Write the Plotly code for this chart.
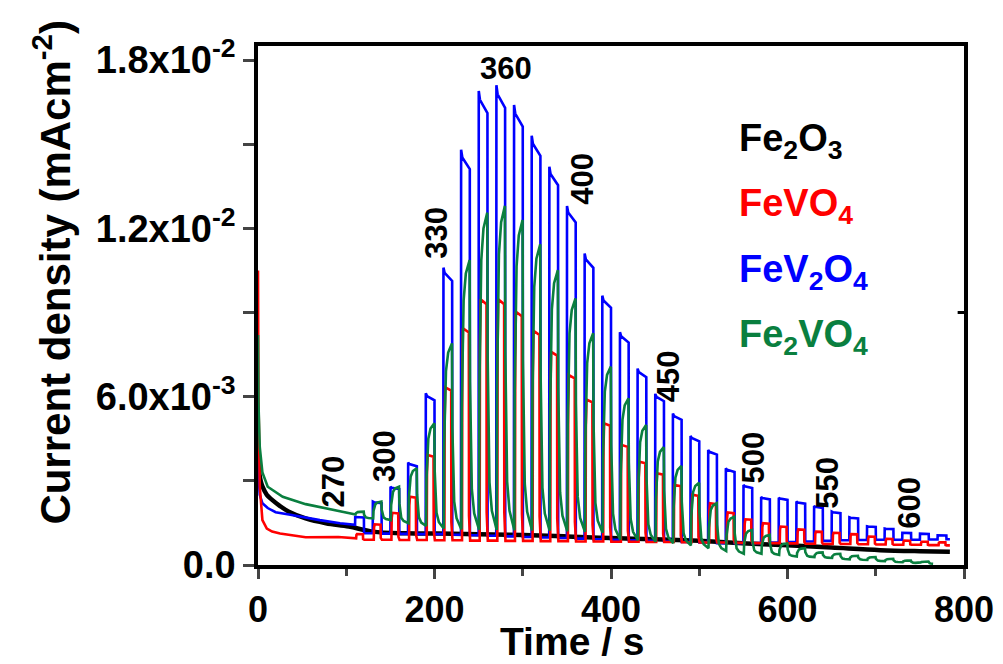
import plotly.graph_objects as go

# ---------------- data ----------------
# light-on times of the chopped illumination (s)
PULSE_ON = [110, 130, 150, 170, 190, 210, 230, 250, 270, 290, 310, 330, 350, 370,
            390, 410, 430, 450, 470, 490, 510, 530, 550, 570, 590, 610, 630, 650,
            670, 690, 710, 730, 750, 770]

# initial dark decays (before the first pulse)
BLUE_INIT_T = [0, 0.5, 2, 5, 11, 20, 35, 48, 70, 93, 110]
BLUE_INIT_V = [0.0041, 0.0033, 0.0025, 0.0022, 0.00203, 0.00188, 0.0018, 0.00172, 0.0016, 0.00149, 0.00143]
RED_INIT_T = [0, 0.5, 2, 5, 10, 16, 25, 35, 54, 91, 110]
RED_INIT_V = [0.0105, 0.006, 0.0028, 0.0016, 0.0013, 0.00119, 0.00112, 0.00107, 0.00099, 0.001, 0.00095]
GREEN_INIT_T = [0, 0.5, 2, 5, 11, 28, 54, 77, 103, 110]
GREEN_INIT_V = [0.0082, 0.0058, 0.0042, 0.0033, 0.00279, 0.00243, 0.00217, 0.00202, 0.00184, 0.0018]

# photocurrent maxima of each pulse
BLUE_TOP = [0.00171, 0.00226, 0.00279, 0.00365, 0.00612, 0.0106, 0.0148, 0.0169, 0.0171, 0.0164,
            0.0153, 0.0142, 0.0128, 0.0111, 0.0096, 0.0083, 0.0070, 0.0061, 0.0054, 0.0046,
            0.0041, 0.00345, 0.00285, 0.00242, 0.0024, 0.00226, 0.0021, 0.0019, 0.0017, 0.00138,
            0.0013, 0.00115, 0.00112, 0.00106]
BLUE_OFF = [0.00113, 0.00112, 0.00111, 0.0011, 0.0011, 0.00108, 0.00106, 0.00104, 0.00102, 0.001,
            0.00098, 0.00096, 0.00094, 0.00092, 0.0009, 0.00088, 0.00086, 0.00084, 0.00082, 0.0008,
            0.00078, 0.00078, 0.00078, 0.0008, 0.00082, 0.00084, 0.00086, 0.00088, 0.00089, 0.0009,
            0.0009, 0.0009, 0.00091, 0.00092]
RED_TOP = [0.0011, 0.00145, 0.00186, 0.00243, 0.00392, 0.00633, 0.00844, 0.00947, 0.00947, 0.00903,
           0.00835, 0.0076, 0.00677, 0.0059, 0.00505, 0.00428, 0.00368, 0.00327, 0.00285, 0.0025,
           0.0022, 0.00187, 0.00163, 0.00149, 0.00137, 0.00127, 0.00119, 0.00115, 0.0011, 0.00101,
           0.00093, 0.00087, 0.00083, 0.00081]
RED_OFF = [0.0009, 0.0009, 0.00089, 0.00089, 0.00088, 0.00088, 0.00087, 0.00087, 0.00086, 0.00086,
           0.00085, 0.00085, 0.00084, 0.00084, 0.00083, 0.00083, 0.00082, 0.00082, 0.00081, 0.0008,
           0.0008, 0.00079, 0.00078, 0.00078, 0.00077, 0.00076, 0.00075, 0.00075, 0.00074, 0.00073,
           0.00072, 0.00072, 0.00071, 0.0007]
GREEN_TOP = [0.0019, 0.00226, 0.00279, 0.00345, 0.00505, 0.0079, 0.01087, 0.01256, 0.0128, 0.0123,
             0.01143, 0.01051, 0.0095, 0.00826, 0.00707, 0.00594, 0.00499, 0.0042, 0.00353, 0.00293,
             0.0022, 0.00172, 0.00125, 0.00107, 0.00077, 0.0006, 0.00045, 0.0004, 0.00033, 0.00028,
             0.00022, 0.00016, 0.00012]
GREEN_OFF = [0.00166, 0.0016, 0.00149, 0.00139, 0.0013, 0.00127, 0.00126, 0.00125, 0.00124, 0.00123,
             0.00122, 0.0012, 0.00118, 0.00115, 0.0009, 0.00088, 0.00083, 0.00078, 0.0007, 0.0006,
             0.0005, 0.0004, 0.0004, 0.00036, 0.0003, 0.00028, 0.00025, 0.0002, 0.00018, 0.00014,
             0.0001, 0.00007, 0.00004]

# Fe2O3 (no photoresponse): dark current decay
BLACK_T = [0, 1, 3, 5, 10, 16, 25, 35, 54, 77, 103, 130, 168, 205, 250, 300, 350, 400,
           450, 500, 554, 600, 650, 705, 750, 784]
BLACK_V = [0.0040, 0.0034, 0.0030, 0.0028, 0.0025, 0.00232, 0.0021, 0.0019, 0.00166, 0.00149,
           0.00137, 0.00119, 0.00113, 0.00112, 0.0011, 0.00107, 0.00102, 0.00096, 0.00092, 0.00086,
           0.00077, 0.0007, 0.00062, 0.00053, 0.00049, 0.00047]

END_T = 784
GREEN_END_T = 765

LABELS = ["270", "300", "330", "360", "400", "450", "500", "550", "600"]
LABEL_T = [86, 144, 202, 281, 368, 466, 562, 645, 738]
LABEL_V = [0.00297, 0.00389, 0.01185, 0.0177, 0.01376, 0.00674, 0.00383, 0.00294, 0.00223]
LABEL_ANGLE = [-90, -90, -90, 0, -90, -90, -90, -90, -90]

LEGEND_TEXT = ["Fe<sub>2</sub>O<sub>3</sub>", "FeVO<sub>4</sub>",
               "FeV<sub>2</sub>O<sub>4</sub>", "Fe<sub>2</sub>VO<sub>4</sub>"]
COLORS = ["#000000", "#FF0000", "#0000FF", "#0A7F3F"]

# ---------------- pulse shapes (style) ----------------
BLUE_RISE = [(0, 0), (0.15, 1.0), (1.5, 0.98), (10, 0.95)]
BLUE_FALL = [(10.15, 0.0), (20, 0.0)]
RED_RISE = [(1.2, 0), (1.5, 0.8), (2.2, 1.0), (8.9, 0.98)]
RED_FALL = [(9.1, 0.12), (10.4, 0.0), (20, 0.0)]
GREEN_RISE = [(0.5, 0), (0.9, 0.45), (1.7, 0.7), (3, 0.85), (5.5, 0.95), (9.8, 1.0)]
GREEN_FALL = [(10.2, 0.55), (11.0, 0.3), (12.3, 0.15), (15, 0.06), (20, 0.0)]


def pulse_train(init_t, init_v, tops, offs, rise, fall, t_end):
    xs, ys = list(init_t), list(init_v)
    for t0, top, off in zip(PULSE_ON, tops, offs):
        base = ys[-1]
        for dt, f in rise:
            xs.append(t0 + dt)
            ys.append(base + f * (top - base))
        hi = ys[-1]
        for dt, f in fall:
            xs.append(t0 + dt)
            ys.append(off + f * (hi - off))
    out_x, out_y = [], []
    for x, y in zip(xs, ys):
        if x <= t_end:
            out_x.append(x)
            out_y.append(y)
    if out_x[-1] < t_end:
        out_x.append(t_end)
        out_y.append(out_y[-1])
    return out_x, out_y


bx, by = pulse_train(BLUE_INIT_T, BLUE_INIT_V, BLUE_TOP, BLUE_OFF, BLUE_RISE, BLUE_FALL, END_T)
rx, ry = pulse_train(RED_INIT_T, RED_INIT_V, RED_TOP, RED_OFF, RED_RISE, RED_FALL, END_T)
gx, gy = pulse_train(GREEN_INIT_T, GREEN_INIT_V, GREEN_TOP, GREEN_OFF, GREEN_RISE, GREEN_FALL, GREEN_END_T)

FONT = "Liberation Sans, Arial, sans-serif"

fig = go.Figure()
fig.add_trace(go.Scatter(x=BLACK_T, y=BLACK_V, mode="lines", line=dict(color=COLORS[0], width=4.5),
                         line_shape="spline", name="Fe2O3"))
fig.add_trace(go.Scatter(x=bx, y=by, mode="lines", line=dict(color=COLORS[2], width=2.6), name="FeV2O4"))
fig.add_trace(go.Scatter(x=rx, y=ry, mode="lines", line=dict(color=COLORS[1], width=2.6), name="FeVO4"))
fig.add_trace(go.Scatter(x=gx, y=gy, mode="lines", line=dict(color=COLORS[3], width=2.6), name="Fe2VO4"))

for txt, t, v, ang in zip(LABELS, LABEL_T, LABEL_V, LABEL_ANGLE):
    fig.add_annotation(x=t, y=v, text=txt, textangle=ang, showarrow=False,
                       xanchor="center", yanchor="middle",
                       font=dict(family=FONT, size=31, color="#000000", weight="bold"))

LEG_X = 543
LEG_Y = [0.0151, 0.01278, 0.01046, 0.00814]
for txt, col, yv in zip(LEGEND_TEXT, COLORS, LEG_Y):
    fig.add_annotation(x=LEG_X, y=yv, text=txt, showarrow=False, xanchor="left", yanchor="middle",
                       font=dict(family=FONT, size=38, color=col, weight="bold"))

# axis titles placed as in the reference (slightly off-centre)
fig.add_annotation(xref="paper", yref="paper", x=0.445, y=-0.148, text="Time / s", showarrow=False,
                   xanchor="center", yanchor="middle",
                   font=dict(family=FONT, size=39, color="#000000", weight="bold"))
fig.add_annotation(xref="paper", yref="paper", x=-0.292, y=0.565, text="Current density (mAcm<sup>-2</sup>)",
                   textangle=-90, showarrow=False, xanchor="center", yanchor="middle",
                   font=dict(family=FONT, size=42, color="#000000", weight="bold"))

# single inward tick on right axis
fig.add_shape(type="line", xref="paper", yref="y", x0=1, x1=0.991, y0=0.009, y1=0.009,
              line=dict(color="black", width=3))

fig.update_layout(
    width=1003, height=664,
    margin=dict(l=258, r=39, t=46, b=99),
    paper_bgcolor="white", plot_bgcolor="white",
    showlegend=False,
    font=dict(family=FONT, color="black"),
)
fig.update_xaxes(
    range=[0, 800], tickvals=[0, 200, 400, 600, 800], ticks="outside", ticklen=10, tickwidth=3,
    minor=dict(dtick=100, tick0=0, ticks="outside", ticklen=7, tickwidth=3),
    showline=True, linewidth=3.5, linecolor="black", mirror=True, showgrid=False, zeroline=False,
    tickfont=dict(family=FONT, size=36, weight="bold"),
    automargin=False,
)
fig.update_yaxes(
    range=[0, 0.0185], tickvals=[0, 0.006, 0.012, 0.018],
    ticktext=["0.0", "6.0x10<sup>-3</sup>", "1.2x10<sup>-2</sup>", "1.8x10<sup>-2</sup>"],
    ticks="outside", ticklen=11, tickwidth=3,
    minor=dict(dtick=0.003, tick0=0, ticks="outside", ticklen=11, tickwidth=3),
    showline=True, linewidth=3.5, linecolor="black", mirror=True, showgrid=False, zeroline=False,
    tickfont=dict(family=FONT, size=38, weight="bold"),
    automargin=False,
)

fig.write_html("out.html")
